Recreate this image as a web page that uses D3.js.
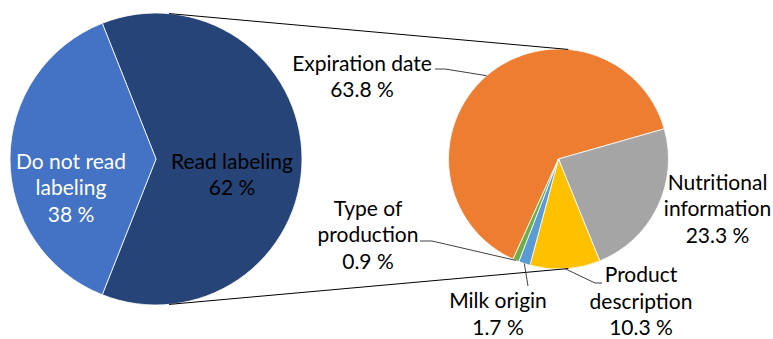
<!DOCTYPE html>
<html>
<head>
<meta charset="utf-8">
<script src="https://cdn.jsdelivr.net/npm/d3@7"></script>
<style>
  body { margin: 0; background: #fff; }
  svg text { font-family: Lato, "Open Sans", sans-serif; }
</style>
</head>
<body>
<svg id="chart"></svg>
<script>
// Размеры
const width = 773;
const height = 339;

// Данные: первая диаграмма
const mainCategories = ["Read labeling", "Do not read labeling"];
const mainValues = [62, 38];
const mainColors = ["#264478", "#4472C4"];

// Данные: вторая диаграмма (детализация "Read labeling")
const subCategories = ["Expiration date", "Nutritional information", "Product description", "Milk origin", "Type of production"];
const subValues = [63.8, 23.3, 10.3, 1.7, 0.9];
const subColors = ["#ED7D31", "#A5A5A5", "#FFC000", "#5B9BD5", "#70AD47"];

// Разметка
const left = { cx: 156, cy: 159, r: 146 };
const right = { cx: 558.5, cy: 159, r: 110 };
const fontSize = 21;
const lineH = 26.5;

const svg = d3.select("#chart")
  .attr("width", width)
  .attr("height", height);

const deg = Math.PI / 180;

// Левая диаграмма: "Read labeling" по центру справа
const readSpan = mainValues[0] / d3.sum(mainValues) * 2 * Math.PI;
const leftStart = Math.PI / 2 - readSpan / 2;
const leftPie = d3.pie().sort(null).startAngle(leftStart).endAngle(leftStart + 2 * Math.PI);
const leftArcs = leftPie(mainValues);
const leftArc = d3.arc().innerRadius(0).outerRadius(left.r);

const gLeft = svg.append("g").attr("transform", `translate(${left.cx},${left.cy})`);
gLeft.selectAll("path")
  .data(leftArcs)
  .join("path")
  .attr("d", leftArc)
  .attr("fill", (d, i) => mainColors[i])
  .attr("stroke", "#fff")
  .attr("stroke-width", 0.8);

// Правая диаграмма
const rightStart = 204.4 * deg;
const rightPie = d3.pie().sort(null).startAngle(rightStart).endAngle(rightStart + 2 * Math.PI);
const rightArcs = rightPie(subValues);
const rightArc = d3.arc().innerRadius(0).outerRadius(right.r);

const gRight = svg.append("g").attr("transform", `translate(${right.cx},${right.cy})`);
gRight.selectAll("path")
  .data(rightArcs)
  .join("path")
  .attr("d", rightArc)
  .attr("fill", (d, i) => subColors[i])
  .attr("stroke", "#fff")
  .attr("stroke-width", 0.8);

// Соединительные линии (внешние касательные)
const dist = right.cx - left.cx;
const th = Math.asin((left.r - right.r) / dist);
[-1, 1].forEach(s => {
  const a = s < 0 ? th : Math.PI - th;
  svg.append("line")
    .attr("x1", left.cx + left.r * Math.sin(a))
    .attr("y1", left.cy - left.r * Math.cos(a))
    .attr("x2", right.cx + right.r * Math.sin(a))
    .attr("y2", right.cy - right.r * Math.cos(a))
    .attr("stroke", "#000")
    .attr("stroke-width", 1);
});

// Подписи левой диаграммы
const leftLabels = [
  { x: 232, y: 161, lines: ["Read labeling"], color: "#000" },
  { x: 71, y: 161, lines: ["Do not read", "labeling"], color: "#fff" }
];
leftLabels.forEach((l, i) => {
  const t = svg.append("text")
    .attr("text-anchor", "middle")
    .attr("font-size", fontSize)
    .attr("fill", l.color);
  l.lines.concat([mainValues[i] + " %"]).forEach((s, k) => {
    t.append("tspan").attr("x", l.x).attr("y", l.y + k * lineH + 7.5).text(s);
  });
});

// Подписи правой диаграммы
const subLines = [
  ["Expiration date"],
  ["Nutritional", "information"],
  ["Product", "description"],
  ["Milk origin"],
  ["Type of", "production"]
];
const subPos = [
  { x: 362, y: 63, elbow: [[445, 69], [435, 69]] },
  { x: 717.5, y: 182, elbow: null },
  { x: 641, y: 274.5, elbow: [[595, 283], [602, 283]] },
  { x: 498, y: 300.5, elbow: [[528, 286]] },
  { x: 368, y: 208, elbow: [[432, 241], [420, 241]] }
];

rightArcs.forEach((d, i) => {
  const p = subPos[i];
  const t = svg.append("text")
    .attr("text-anchor", "middle")
    .attr("font-size", fontSize)
    .attr("fill", "#000");
  subLines[i].concat([subValues[i] + " %"]).forEach((s, k) => {
    t.append("tspan").attr("x", p.x).attr("y", p.y + k * lineH + 7.5).text(s);
  });

  // Выноски
  if (p.elbow) {
    const mid = (d.startAngle + d.endAngle) / 2;
    const start = [right.cx + right.r * Math.sin(mid), right.cy - right.r * Math.cos(mid)];
    svg.append("path")
      .attr("d", d3.line()([start].concat(p.elbow)))
      .attr("fill", "none")
      .attr("stroke", "#404040")
      .attr("stroke-width", 1);
  }
});
</script>
</body>
</html>
